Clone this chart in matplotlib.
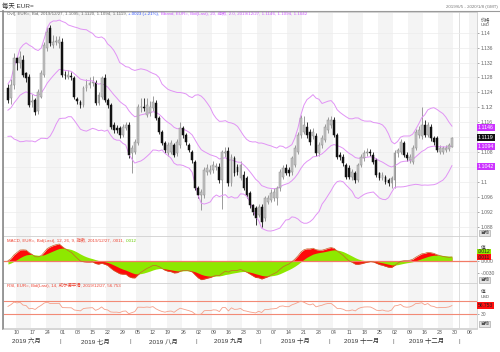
import numpy as np
import pandas as pd
import matplotlib
matplotlib.use("Agg")
import matplotlib.pyplot as plt
from matplotlib.transforms import blended_transform_factory
from matplotlib.lines import Line2D

plt.rcParams['font.family'] = ['Liberation Sans', 'Noto Sans CJK SC', 'DejaVu Sans']

# ---------------- data ----------------
# closes before the visible window (Apr 1 - Jun 4 2019), only used to seed the indicators
pre_close = [1.1215, 1.1205, 1.1235, 1.1220, 1.1216, 1.1262, 1.1265, 1.1275, 1.1255, 1.1300,
             1.1305, 1.1285, 1.1295, 1.1235, 1.1245, 1.1255, 1.1225, 1.1155, 1.1130, 1.1150,
             1.1185, 1.1215, 1.1195, 1.1170, 1.1200, 1.1200, 1.1190, 1.1197, 1.1215, 1.1234,
             1.1224, 1.1205, 1.1202, 1.1174, 1.1157, 1.1165, 1.1160, 1.1150, 1.1180, 1.1205,
             1.1192, 1.1163, 1.1130, 1.1130, 1.1168, 1.1240, 1.1253]

opens = [1.1251, 1.1225, 1.1260, 1.1331, 1.1318, 1.1327, 1.1291, 1.1282, 1.1213, 1.1220,
         1.1190, 1.1229, 1.1287, 1.1358, 1.1413, 1.1367, 1.1376, 1.1372, 1.1376, 1.1288,
         1.1282, 1.1283, 1.1278, 1.1222, 1.1215, 1.1206, 1.1251, 1.1260, 1.1264, 1.1264,
         1.1211, 1.1229, 1.1278, 1.1220, 1.1206, 1.1153, 1.1144, 1.1144, 1.1126, 1.1144,
         1.1153, 1.1077, 1.1081, 1.1104, 1.1200, 1.1202, 1.1180, 1.1184, 1.1197, 1.1211,
         1.1171, 1.1135, 1.1104, 1.1077, 1.1081, 1.1099, 1.1077, 1.1099, 1.1144, 1.1126,
         1.1099, 1.1081, 1.1054, 1.0983, 1.0965, 1.0965, 1.1028, 1.1028, 1.1032, 1.1041,
         1.1041, 1.1005, 1.1077, 1.1083, 1.0996, 1.1063, 1.1041, 1.1010, 1.1019, 1.1010,
         1.0970, 1.0938, 1.0929, 1.0911, 1.0934, 1.0903, 1.0947, 1.0952, 1.0956, 1.0956,
         1.0983, 1.1014, 1.1037, 1.1032, 1.1028, 1.1046, 1.1081, 1.1126, 1.1135, 1.1148,
         1.1135, 1.1122, 1.1122, 1.1077, 1.1099, 1.1113, 1.1139, 1.1153, 1.1166, 1.1126,
         1.1072, 1.1068, 1.1046, 1.1037, 1.1014, 1.1023, 1.1005, 1.1046, 1.1063, 1.1077,
         1.1079, 1.1072, 1.1059, 1.1023, 1.1010, 1.1014, 1.1005, 1.0996, 1.1005, 1.1077,
         1.1081, 1.1104, 1.1072, 1.1059, 1.1054, 1.1090, 1.1126, 1.1122, 1.1153, 1.1126,
         1.1148, 1.1117, 1.1117, 1.1081, 1.1081, 1.1086, 1.1088, 1.1095]
highs = [1.1262, 1.1275, 1.1345, 1.1338, 1.1350, 1.1340, 1.1296, 1.1290, 1.1235, 1.1226,
         1.1248, 1.1300, 1.1375, 1.1415, 1.1420, 1.1395, 1.1390, 1.1392, 1.1385, 1.1298,
         1.1300, 1.1295, 1.1285, 1.1228, 1.1220, 1.1256, 1.1275, 1.1280, 1.1284, 1.1272,
         1.1240, 1.1285, 1.1290, 1.1226, 1.1212, 1.1160, 1.1152, 1.1150, 1.1156, 1.1162,
         1.1160, 1.1100, 1.1115, 1.1210, 1.1225, 1.1226, 1.1225, 1.1218, 1.1230, 1.1220,
         1.1178, 1.1140, 1.1110, 1.1106, 1.1112, 1.1105, 1.1115, 1.1162, 1.1150, 1.1130,
         1.1104, 1.1086, 1.1060, 1.0990, 1.0982, 1.1040, 1.1048, 1.1045, 1.1055, 1.1052,
         1.1050, 1.1087, 1.1095, 1.1095, 1.1075, 1.1070, 1.1048, 1.1055, 1.1030, 1.1015,
         1.0975, 1.0942, 1.0935, 1.0940, 1.0940, 1.0962, 1.0965, 1.0980, 1.0985, 1.0990,
         1.1035, 1.1045, 1.1048, 1.1040, 1.1070, 1.1098, 1.1135, 1.1180, 1.1178, 1.1160,
         1.1142, 1.1145, 1.1130, 1.1106, 1.1125, 1.1155, 1.1175, 1.1176, 1.1175, 1.1132,
         1.1080, 1.1075, 1.1052, 1.1045, 1.1035, 1.1030, 1.1052, 1.1075, 1.1085, 1.1090,
         1.1088, 1.1080, 1.1065, 1.1028, 1.1026, 1.1020, 1.1010, 1.1015, 1.1085, 1.1092,
         1.1115, 1.1110, 1.1080, 1.1075, 1.1098, 1.1142, 1.1150, 1.1200, 1.1165, 1.1160,
         1.1155, 1.1122, 1.1122, 1.1098, 1.1096, 1.1098, 1.1105, 1.1120]
lows = [1.1212, 1.1208, 1.1250, 1.1300, 1.1305, 1.1280, 1.1268, 1.1200, 1.1200, 1.1180,
        1.1182, 1.1225, 1.1280, 1.1350, 1.1365, 1.1360, 1.1368, 1.1360, 1.1282, 1.1275,
        1.1276, 1.1274, 1.1222, 1.1208, 1.1198, 1.1200, 1.1243, 1.1252, 1.1258, 1.1205,
        1.1205, 1.1222, 1.1215, 1.1198, 1.1142, 1.1130, 1.1132, 1.1118, 1.1120, 1.1138,
        1.1065, 1.1025, 1.1075, 1.1098, 1.1188, 1.1190, 1.1175, 1.1178, 1.1190, 1.1165,
        1.1128, 1.1098, 1.1078, 1.1070, 1.1075, 1.1066, 1.1070, 1.1092, 1.1118, 1.1100,
        1.1080, 1.1052, 1.0978, 1.0958, 1.0925, 1.0958, 1.1020, 1.1022, 1.1025, 1.1032,
        1.0998, 1.0927, 1.1068, 1.0990, 1.0990, 1.1015, 1.1020, 1.1005, 1.0978, 1.0958,
        1.0930, 1.0912, 1.0885, 1.0905, 1.0878, 1.0895, 1.0940, 1.0945, 1.0950, 1.0938,
        1.0975, 1.1008, 1.1018, 1.1015, 1.1020, 1.1040, 1.1075, 1.1118, 1.1128, 1.1118,
        1.1100, 1.1115, 1.1070, 1.1070, 1.1092, 1.1106, 1.1132, 1.1145, 1.1120, 1.1062,
        1.1060, 1.1044, 1.1008, 1.1008, 1.1005, 1.0998, 1.1000, 1.1040, 1.1056, 1.1070,
        1.1070, 1.1048, 1.1012, 1.1004, 1.1004, 1.0994, 1.0990, 1.0985, 1.0985, 1.1068,
        1.1075, 1.1066, 1.1056, 1.1052, 1.1048, 1.1085, 1.1118, 1.1115, 1.1120, 1.1120,
        1.1110, 1.1100, 1.1080, 1.1074, 1.1076, 1.1080, 1.1083, 1.1094]
closes = [1.1220, 1.1260, 1.1331, 1.1318, 1.1336, 1.1287, 1.1278, 1.1206, 1.1216, 1.1188,
          1.1242, 1.1291, 1.1367, 1.1403, 1.1372, 1.1376, 1.1378, 1.1380, 1.1287, 1.1286,
          1.1287, 1.1282, 1.1229, 1.1217, 1.1206, 1.1251, 1.1260, 1.1264, 1.1269, 1.1211,
          1.1233, 1.1278, 1.1220, 1.1206, 1.1148, 1.1139, 1.1140, 1.1126, 1.1148, 1.1153,
          1.1072, 1.1090, 1.1108, 1.1202, 1.1202, 1.1199, 1.1206, 1.1200, 1.1215, 1.1171,
          1.1135, 1.1104, 1.1086, 1.1099, 1.1104, 1.1072, 1.1108, 1.1144, 1.1126, 1.1108,
          1.1086, 1.1059, 1.0983, 1.0965, 1.0974, 1.1032, 1.1037, 1.1032, 1.1046, 1.1042,
          1.1005, 1.1081, 1.1081, 1.0996, 1.1068, 1.1023, 1.1028, 1.1046, 1.0983, 1.0965,
          1.0938, 1.0920, 1.0903, 1.0934, 1.0894, 1.0956, 1.0956, 1.0970, 1.0974, 1.0983,
          1.1028, 1.1037, 1.1023, 1.1023, 1.1063, 1.1090, 1.1126, 1.1171, 1.1153, 1.1126,
          1.1108, 1.1135, 1.1077, 1.1099, 1.1117, 1.1148, 1.1166, 1.1166, 1.1126, 1.1068,
          1.1068, 1.1050, 1.1014, 1.1014, 1.1028, 1.1005, 1.1046, 1.1068, 1.1077, 1.1079,
          1.1077, 1.1054, 1.1019, 1.1010, 1.1019, 1.1001, 1.0996, 1.1010, 1.1077, 1.1086,
          1.1108, 1.1072, 1.1063, 1.1068, 1.1090, 1.1135, 1.1139, 1.1153, 1.1126, 1.1153,
          1.1117, 1.1108, 1.1086, 1.1090, 1.1090, 1.1092, 1.1099, 1.1119]

first_day = '2019-06-05'
last_axis_day = '2020-01-08'
bb_last = [1.1146, 1.1094, 1.1042]      # upper, middle, lower on 2019/12/27
macd_last = [0.0011, 0.0012]            # MACD, signal
rsi_last = 56.753
price_ticks = [1.088, 1.092, 1.096, 1.1, 1.104, 1.108, 1.112, 1.116, 1.12, 1.124, 1.128, 1.132, 1.136, 1.14]
hidden_ticks = [1.104, 1.112]           # covered by the value boxes in the original
month_names = ['六月', '七月', '八月', '九月', '十月', '十一月', '十二月']

# ---------------- indicators ----------------
n = len(closes)
x = np.arange(n)
allc = pd.Series(pre_close + closes)
mid = allc.ewm(span=20, adjust=False).mean()
sd = allc.rolling(20).std(ddof=0)
upper = (mid + 2 * sd).values[-n:]
lower = (mid - 2 * sd).values[-n:]
mid = mid.values[-n:]
ema12 = allc.ewm(span=12, adjust=False).mean()
ema26 = allc.ewm(span=26, adjust=False).mean()
macd = ema12 - ema26
sig = macd.ewm(span=9, adjust=False).mean()
macd = macd.values[-n:]
sig = sig.values[-n:]
d = allc.diff()
gain = d.clip(lower=0).ewm(alpha=1 / 14, adjust=False).mean()
loss = (-d.clip(upper=0)).ewm(alpha=1 / 14, adjust=False).mean()
rsi = (100 - 100 / (1 + gain / loss)).values[-n:]

dates = pd.bdate_range(first_day, last_axis_day)
pos = np.arange(len(dates))
mondays = pos[dates.weekday == 0]

# ---------------- figure ----------------
W, H = 500, 352
fig = plt.figure(figsize=(5, 3.52), dpi=100)


def rect(x0, y0, x1, y1):
    return [x0 / W, 1 - y1 / H, (x1 - x0) / W, (y1 - y0) / H]


ax1 = fig.add_axes(rect(3, 12, 477, 236))
ax2 = fig.add_axes(rect(3, 236, 477, 283))
ax3 = fig.add_axes(rect(3, 283, 477, 328))
XL = (-1.64, 155.3)

for ax in (ax1, ax2, ax3):
    ax.set_xlim(*XL)
    for k, m in enumerate(mondays):
        if k % 2 == 0:
            ax.axvspan(m - 0.5, m + 4.5, color='#f4f4f4', lw=0, zorder=0)
    ax.axvline(149.5, color='#d8d8d8', lw=0.6, zorder=0.5)
    for s in ax.spines.values():
        s.set_color('#cfcfcf')
        s.set_linewidth(0.6)
    ax.yaxis.tick_right()
    ax.tick_params(axis='y', direction='out', length=1.5, width=0.4, colors='#666666',
                   labelsize=3.6, pad=1)
    ax.tick_params(axis='x', length=0)
    ax.set_xticks([])

# main panel
ax1.set_ylim(1.08552, 1.14555)
for t in price_ticks:
    ax1.axhline(t, color='#ececec', lw=0.5, zorder=0.6)
op = np.array(opens); hi = np.array(highs); lo = np.array(lows); cl = np.array(closes)
up = cl >= op
ax1.vlines(x[up], lo[up], hi[up], colors='#8c8c8c', lw=0.6, zorder=2)
ax1.vlines(x[~up], lo[~up], hi[~up], colors='#111111', lw=0.6, zorder=2)
ax1.bar(x[up], (cl - op)[up], bottom=op[up], width=0.62, color='#c4c4c4',
        edgecolor='#8c8c8c', lw=0.35, zorder=3)
ax1.bar(x[~up], (op - cl)[~up], bottom=cl[~up], width=0.62, color='#111111',
        edgecolor='#111111', lw=0.35, zorder=3)
for s in (upper, mid, lower):
    ax1.plot(x, s, color='#e193f5', lw=0.7, zorder=2.5)
ax1.set_yticks(price_ticks)
ax1.set_yticklabels(['' if t in hidden_ticks else ('%g' % t) for t in price_ticks])
for lab in ax1.get_yticklabels():
    if lab.get_text() == '1.12':
        lab.set_fontsize(4.6)

# MACD panel
ax2.set_ylim(-0.00564, 0.00641)
ax2.fill_between(x, 0, macd, color='#ff0a0a', lw=0, zorder=2)
ax2.fill_between(x, 0, sig, color='#8ee800', lw=0, zorder=3)
ax2.plot(x, macd, color='#c8642a', lw=0.5, zorder=4)
ax2.axhline(0, color='#f27a66', lw=0.9, zorder=3.5)
ax2.set_yticks([-0.003, 0.0])
ax2.set_yticklabels(['-.0030', '.0000'])

# RSI panel
ax3.set_ylim(-11.2, 124.0)
ax3.plot(x, rsi, color='#f5a08a', lw=0.6, zorder=3)
ax3.axhline(70, color='#f28a76', lw=0.8, zorder=2)
ax3.axhline(30, color='#f28a76', lw=0.8, zorder=2)
ax3.set_yticks([30])
ax3.set_yticklabels(['30'])

# x axis labels (day of each Monday) and months
tr = blended_transform_factory(ax3.transData, fig.transFigure)
for m in mondays:
    fig.text(m, 1 - 333 / H, '%02d' % dates[m].day, transform=tr, fontsize=3.8,
             color='#555555', ha='center', va='center')
mstart = [i for i in range(len(dates)) if i == 0 or dates[i].month != dates[i - 1].month]
for k, s in enumerate(mstart):
    if k > 0:
        fig.text(s - 0.5, 1 - 341.5 / H, '|', transform=tr, fontsize=4.5, color='#666666',
                 ha='center', va='center')
for k in range(len(month_names)):
    a = mstart[k]
    b = mstart[k + 1]
    c = (a + b - 1) / 2 if k > 0 else 6
    fig.text(c, 1 - 341.5 / H, '2019 ' + month_names[k], transform=tr, fontsize=4.6,
             color='#333333', ha='center', va='center')

# frame lines
fig.add_artist(Line2D([0, 1], [1 - 11 / H, 1 - 11 / H], color='#9a9a9a', lw=0.8))
fig.add_artist(Line2D([2.5 / W, 2.5 / W], [1 - 11 / H, 1 - 329 / H], color='#8a8a8a', lw=1.2))
fig.add_artist(Line2D([3 / W, 477 / W], [1 - 328.5 / H, 1 - 328.5 / H], color='#cfcfcf', lw=0.6))

# titles
fig.text(2 / W, 1 - 6 / H, '每天 EUR=', fontsize=4.6, color='#333333', va='center', ha='left')
fig.text(498 / W, 1 - 7 / H, '2019/6/5 - 2020/1/8 (GMT)', fontsize=3.2, color='#777777',
         va='center', ha='right')


def chain(ax, xa, ya, pieces, size=3.2):
    t = ax.text(xa, ya, pieces[0][0], color=pieces[0][1], fontsize=size, transform=ax.transAxes,
                va='center', ha='left', zorder=10)
    for s, c in pieces[1:]:
        t = ax.annotate(s, xy=(1, 0), xycoords=t, va='bottom', ha='left', color=c,
                        fontsize=size, zorder=10)
    return t


chain(ax1, 0.0084, 0.99, [
    ('Ovl], EUR=, Bid, 2019/12/27, 1.1095, 1.1120, 1.1094, 1.1119, ', '#666666'),
    ('+.0023 (+.21%), ', '#3355ff'),
    ('Bband, EUR=, Bid(Last), 20, 指数, 2.0, 2019/12/27, %.4f, %.4f, %.4f' % tuple(bb_last), '#cc55ff')])
chain(ax2, 0.0084, 0.908, [
    ('MACD, EUR=, Bid(Last), 12, 26, 9, 指数, 2019/12/27, %s, ' % ('%.4f' % macd_last[0]).lstrip('0'), '#ee4433'),
    (('%.4f' % macd_last[1]).lstrip('0'), '#66cc00')])
chain(ax3, 0.0084, 0.938, [
    ('RSI, EUR=, Bid(Last), 14, 威尔德平滑, 2019/12/27, %.3f' % rsi_last, '#ee4433')])


def rlabel(y, s, fc=None, tc='#444444', size=3.6, xpx=479):
    kw = {}
    if fc is not None:
        kw['bbox'] = dict(boxstyle='square,pad=0.12', fc=fc, ec='none')
    fig.text(xpx / W, 1 - y / H, s, fontsize=size, color=tc, ha='left', va='center',
             zorder=20, **kw)


rlabel(21, '价格', size=3.4, xpx=481)
rlabel(25.5, 'USD', size=3.0, xpx=481)
trp = blended_transform_factory(fig.transFigure, ax1.transData)
for v, fc, tc in [(bb_last[0], '#cc33ff', '#ffffff'), (closes[-1], '#111111', '#ffffff'),
                  (bb_last[1], '#cc33ff', '#ffffff'), (bb_last[2], '#cc33ff', '#ffffff')]:
    fig.text(478 / W, v, '%.4f' % v, transform=trp, fontsize=3.8, color=tc, ha='left',
             va='center', zorder=20,
             bbox=dict(boxstyle='square,pad=0.18', fc=fc, ec='none'))
for y in (233, 280, 324):
    fig.text(480 / W, 1 - y / H, '自动', fontsize=3.2, color='#333333', ha='left', va='center',
             bbox=dict(boxstyle='square,pad=0.2', fc='#e4e4e4', ec='#999999', lw=0.4), zorder=20)
rlabel(247.5, '值', size=3.4, xpx=481)
rlabel(251.7, ('%.4f' % macd_last[1]).lstrip('0'), fc='#8ee800', tc='#222222', size=3.6, xpx=478)
rlabel(257.3, ('%.4f' % macd_last[0]).lstrip('0'), fc='#ff1010', tc='#222222', size=3.6, xpx=478)
rlabel(291.7, '值', size=3.4, xpx=481)
rlabel(297.0, 'USD', size=3.0, xpx=481)
rlabel(305.5, '%.3f' % rsi_last, fc='#ff1010', tc='#222222', size=3.6, xpx=478)

fig.savefig('out.png', dpi=100)
